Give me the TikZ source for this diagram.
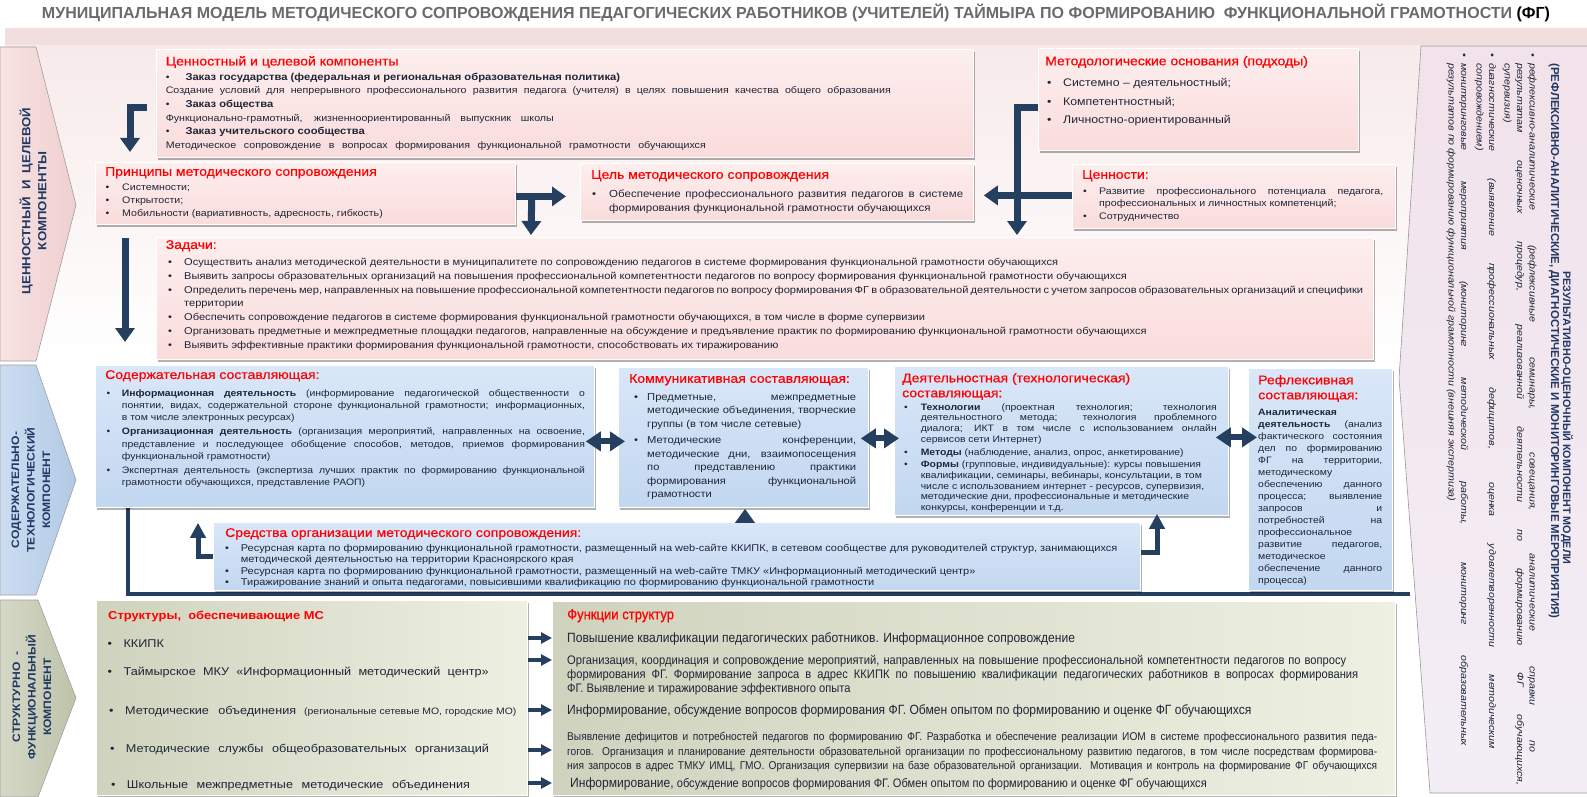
\documentclass[tikz,border=0pt]{standalone}
\usepackage{graphicx}
\usepackage{fontspec}
\setmainfont{Liberation Sans}[FakeStretch=1.12]
\newfontfamily\plainf{Liberation Sans}
\newfontfamily\narrowf{Liberation Sans}[FakeStretch=0.9]
\newfontfamily\redtitlef{Liberation Sans}[FakeStretch=1.12, FakeBold=0.6]
\newfontfamily\narrowtitlef{Liberation Sans}[FakeStretch=0.9, FakeBold=0.6]
\usetikzlibrary{arrows.meta,shadows,calc}
\definecolor{navy}{HTML}{243F5F}
\definecolor{navytext}{HTML}{1F3864}
\definecolor{bodytext}{HTML}{1F2638}
\definecolor{ttred}{HTML}{FF0000}
\definecolor{titlegray}{HTML}{6A6A6A}
\definecolor{bandpink}{HTML}{F2DEDE}
\definecolor{bgpinkA}{HTML}{F8EAEA}
\definecolor{pinkA}{HTML}{FDEEEE}
\definecolor{pinkB}{HTML}{FADCDC}
\definecolor{blueA}{HTML}{D9E7F8}
\definecolor{blueB}{HTML}{C2D7F0}
\definecolor{greenA}{HTML}{CFD3BD}
\definecolor{greenB}{HTML}{EEF0E2}
\definecolor{pA}{HTML}{F8E3E3}
\definecolor{pB}{HTML}{EFCFCF}
\definecolor{bA}{HTML}{CCDDF1}
\definecolor{bB}{HTML}{B2C9E5}
\definecolor{gA}{HTML}{D5D8C6}
\definecolor{gB}{HTML}{BEC3AB}
\definecolor{panelA}{HTML}{F2E2EA}
\definecolor{panelB}{HTML}{F3EEF6}
\newcommand\fstr{\rule{0pt}{.8em}}
\newcommand\bulx[1]{\makebox[#1][l]{\textbullet}}
\newcommand\indx[1]{\hspace*{#1}}
\newcommand\jline[2]{\makebox[#1][s]{#2}}
\begin{document}
\begin{tikzpicture}[x=1pt,y=-1pt,
  txt/.style={anchor=north west, inner sep=0pt, align=left, text=bodytext},
  rtitle/.style={txt, text=ttred, font=\redtitlef\fontsize{12.5}{15}\selectfont},
  boxbase/.style={anchor=north west, inner sep=0pt, draw=white, line width=0.8pt,
     drop shadow={shadow xshift=2pt, shadow yshift=-2.5pt, fill=black, opacity=0.3}},
  pinkbox/.style={boxbase, top color=pinkA, bottom color=pinkB},
  bluebox/.style={boxbase, top color=blueA, bottom color=blueB},
  greenbox/.style={boxbase, left color=greenA, right color=greenB},
  navyarrow/.style={draw=navy, line width=7pt, -{Triangle[length=14pt,width=19pt]}},
  thinarrow/.style={draw=navy, line width=5pt, -{Triangle[length=15pt,width=15pt]}},
  dblarrow/.style={draw=navy, line width=6pt, {Triangle[length=15pt,width=19pt]}-{Triangle[length=15pt,width=19pt]}},
  smallarrow/.style={draw=navy, line width=3.5pt, -{Triangle[length=11pt,width=11pt]}},
  frameline/.style={draw=navy, line width=4pt},
  pentagon/.style={draw=gray!75, line width=0.6pt},
  pentext/.style={rotate=90, align=center, text=navytext, inner sep=0pt}
]
\useasboundingbox (0,0) rectangle (1587,797);
% ---------- background
\fill[bandpink] (5,28) rectangle (1590,46);
\shade[top color=bgpinkA, bottom color=white] (5,46) rectangle (1590,362);
% ---------- title
\node[anchor=base, inner sep=0pt] (title) at (796,18.5) {\resizebox{1508pt}{!}{\plainf\bfseries\fontsize{15.5}{18}\selectfont\textcolor{titlegray}{МУНИЦИПАЛЬНАЯ МОДЕЛЬ МЕТОДИЧЕСКОГО СОПРОВОЖДЕНИЯ ПЕДАГОГИЧЕСКИХ РАБОТНИКОВ (УЧИТЕЛЕЙ) ТАЙМЫРА ПО ФОРМИРОВАНИЮ\ \ ФУНКЦИОНАЛЬНОЙ ГРАМОТНОСТИ} \textcolor{black}{(ФГ)}}};
% ---------- left pentagons
\draw[pentagon, left color=pA, right color=pB] (0,47) -- (36,47) -- (76,205) -- (36,361) -- (0,361) -- cycle;
\draw[pentagon, left color=bA, right color=bB] (0,365) -- (36,365) -- (76,480) -- (36,595) -- (0,595) -- cycle;
\draw[pentagon, left color=gA, right color=gB] (0,600) -- (38,600) -- (76,698) -- (38,797) -- (0,797) -- cycle;
\node[pentext, font=\bfseries\fontsize{11.8}{16}\selectfont] (P1t) at (33,201) {ЦЕННОСТНЫЙ\ \ И\ \ ЦЕЛЕВОЙ\\КОМПОНЕНТЫ};
\node[pentext, font=\bfseries\fontsize{10.8}{15.5}\selectfont] (P2t) at (31,490) {СОДЕРЖАТЕЛЬНО-\\ТЕХНОЛОГИЧЕСКИЙ\\КОМПОНЕНТ};
\node[pentext, font=\bfseries\fontsize{10.8}{15.5}\selectfont] (P3t) at (32,697) {СТРУКТУРНО\ \ -\\ФУНКЦИОНАЛЬНЫЙ\\КОМПОНЕНТ};
% ---------- frame line end
\coordinate (f1) at (1410,593.5);
% ---------- right panel
\draw[draw=gray!80, line width=0.6pt, top color=panelA, bottom color=panelB] (1421,46) -- (1590,46) -- (1590,793) -- (1430,793) -- (1399,378) -- cycle;
\node[rotate=-90, inner sep=0pt, text=navytext, font=\plainf\bfseries\fontsize{10.8}{12}\selectfont] (RT1) at (1567,418) {РЕЗУЛЬТАТИВНО-ОЦЕНОЧНЫЙ КОМПОНЕНТ МОДЕЛИ};
\node[rotate=-90, inner sep=0pt, text=navytext, font=\plainf\bfseries\fontsize{11.5}{12}\selectfont] (RT2) at (1554,341) {(РЕФЛЕКСИВНО-АНАЛИТИЧЕСКИЕ, ДИАГНОСТИЧЕСКИЕ И МОНИТОРИНГОВЫЕ МЕРОПРИЯТИЯ)};
\node[txt, rotate=-90, font=\itshape\fontsize{9.5}{12.5}\selectfont] (RB) at (1537.5,53) {%
\fstr\bulx{10pt}\jline{689pt}{рефлексивно-аналитические (рефлексивные семинары, совещания, аналитические справки по}\\
\indx{10pt}\jline{722pt}{результатам оценочных процедур, реализованной деятельности по формированию ФГ обучающихся,}\\
\indx{10pt}супервизия)\\[3pt]
\bulx{10pt}\jline{686pt}{диагностические (выявление профессиональных дефицитов, оценка удовлетворенности методическим}\\
\indx{10pt}сопровождением)\\[3pt]
\bulx{10pt}\jline{683pt}{мониторинговые мероприятия (мониторинг методической работы, мониторинг образовательных}\\
\indx{10pt}результатов по формированию функциональной грамотности (внешняя экспертиза)};
% ---------- boxes
\node[pinkbox, minimum width=817pt, minimum height=108pt] (A) at (156,49) {};
\node[pinkbox, minimum width=420pt, minimum height=62pt] (B) at (95,162) {};
\node[pinkbox, minimum width=393pt, minimum height=57pt] (C) at (580,163) {};
\node[pinkbox, minimum width=320pt, minimum height=102pt] (D) at (1038,48) {};
\node[pinkbox, minimum width=323pt, minimum height=64pt] (E) at (1072,164) {};
\node[pinkbox, minimum width=1217pt, minimum height=122pt] (F) at (156,237) {};
\draw[frameline] (127.5,507) coordinate (f0) |- (f1);
\node[bluebox, minimum width=499pt, minimum height=142pt] (G) at (95,365) {};
\node[bluebox, minimum width=250pt, minimum height=140pt] (H) at (618,367) {};
\node[bluebox, minimum width=334pt, minimum height=149pt] (I) at (894,366) {};
\node[bluebox, minimum width=144pt, minimum height=222pt] (J) at (1248,368) {};
\node[bluebox, minimum width=927pt, minimum height=68pt] (K) at (213,522) {};
\node[greenbox, minimum width=431pt, minimum height=195pt] (L) at (96,600) {};
\node[greenbox, minimum width=843pt, minimum height=194pt] (M) at (552,601) {};
% ---------- texts A
\node[rtitle] (At) at (165.6,56) {Ценностный и целевой компоненты};
\node[txt, font=\fontsize{9.5}{13.6}\selectfont] (Ab) at (165.6,72.5) {%
\fstr\bulx{19.7pt}{\bfseries\fontsize{10}{13.6}\selectfont Заказ государства (федеральная и региональная образовательная политика)}\\
\jline{725pt}{Создание условий для непрерывного профессионального развития педагога (учителя) в целях повышения качества общего образования}\\
\bulx{19.7pt}{\bfseries\fontsize{10}{13.6}\selectfont Заказ общества}\\
\jline{388pt}{Функционально-грамотный, жизненноориентированный выпускник школы}\\
\bulx{19.7pt}{\bfseries\fontsize{10}{13.6}\selectfont Заказ учительского сообщества}\\
\jline{540pt}{Методическое сопровождение в вопросах формирования функциональной грамотности обучающихся}};
% B
\node[rtitle] (Bt) at (105,167) {Принципы методического сопровождения};
\node[txt, font=\fontsize{9.5}{12.9}\selectfont] (Bb) at (105.5,182.5) {%
\fstr\bulx{16.5pt}Системности;\\ \bulx{16.5pt}Открытости;\\ \bulx{16.5pt}Мобильности (вариативность, адресность, гибкость)};
% C
\node[rtitle] (Ct) at (591,170) {Цель методического сопровождения};
\node[txt, font=\fontsize{10.3}{13.5}\selectfont] (Cb) at (592,189.2) {%
\fstr\bulx{17pt}\jline{354pt}{Обеспечение профессионального развития педагогов в системе}\\
\indx{17pt}формирования функциональной грамотности обучающихся};
% D
\node[rtitle] (Dt) at (1045,56) {Методологические основания (подходы)};
\node[txt, font=\fontsize{11}{18.5}\selectfont] (Db) at (1047,77.8) {%
\fstr\bulx{16pt}Системно – деятельностный;\\ \bulx{16pt}Компетентностный;\\ \bulx{16pt}Личностно-ориентированный};
% E
\node[rtitle] (Et) at (1082,170) {Ценности:};
\node[txt, font=\fontsize{9.5}{12.5}\selectfont] (Eb) at (1083,186.5) {%
\fstr\bulx{16pt}\jline{284pt}{Развитие профессионального потенциала педагога,}\\
\indx{16pt}профессиональных и личностных компетенций;\\
\bulx{16pt}Сотрудничество};
% F
\node[rtitle] (Ft) at (165.6,240) {Задачи:};
\node[txt, font=\fontsize{9.9}{13.8}\selectfont] (Fb) at (168,257.3) {%
\fstr\bulx{16pt}Осуществить анализ методической деятельности в муниципалитете по сопровождению педагогов в системе формирования функциональной грамотности обучающихся\\
\bulx{16pt}Выявить запросы образовательных организаций на повышения профессиональной компетентности педагогов по вопросу формирования функциональной грамотности обучающихся\\
\bulx{16pt}\jline{1179pt}{Определить перечень мер, направленных на повышение профессиональной компетентности педагогов по вопросу формирования ФГ в образовательной деятельности с учетом запросов образовательных организаций и специфики}\\
\indx{16pt}территории\\
\bulx{16pt}Обеспечить сопровождение педагогов в системе формирования функциональной грамотности обучающихся, в том числе в форме супервизии\\
\bulx{16pt}Организовать предметные и межпредметные площадки педагогов, направленные на обсуждение и предъявление практик по формированию функциональной грамотности обучающихся\\
\bulx{16pt}Выявить эффективные практики формирования функциональной грамотности, способствовать их тиражированию};
% G
\node[rtitle] (Gt) at (105,370) {Содержательная составляющая:};
\node[txt, font=\fontsize{9.3}{12.3}\selectfont] (Gb) at (106.5,388.6) {%
\fstr\bulx{15.2pt}\jline{463pt}{\textbf{Информационная деятельность} (информирование педагогической общественности о}\\
\indx{15.2pt}\jline{463pt}{понятии, видах, содержательной стороне функциональной грамотности; информационных,}\\
\indx{15.2pt}в том числе электронных ресурсах)\\[1.7pt]
\bulx{15.2pt}\jline{463pt}{\textbf{Организационная деятельность} (организация мероприятий, направленных на освоение,}\\
\indx{15.2pt}\jline{463pt}{представление и последующее обобщение способов, методов, приемов формирования}\\
\indx{15.2pt}функциональной грамотности)\\[1.7pt]
\bulx{15.2pt}\jline{463pt}{Экспертная деятельность (экспертиза лучших практик по формированию функциональной}\\
\indx{15.2pt}грамотности обучающихся, представление РАОП)};
% H
\node[rtitle] (Ht) at (629,374) {Коммуникативная составляющая:};
\node[txt, font=\fontsize{10}{13.5}\selectfont] (Hb) at (634,391.8) {%
\fstr\bulx{13pt}\jline{209pt}{Предметные, межпредметные}\\
\indx{13pt}\jline{209pt}{методические объединения, творческие}\\
\indx{13pt}группы (в том числе сетевые)\\[3pt]
\bulx{13pt}\jline{209pt}{Методические конференции,}\\
\indx{13pt}\jline{209pt}{методические дни, взаимопосещения}\\
\indx{13pt}\jline{209pt}{по представлению практики}\\
\indx{13pt}\jline{209pt}{формирования функциональной}\\
\indx{13pt}грамотности};
% I
\node[rtitle] (It) at (902,373) {Деятельностная (технологическая)\\составляющая:};
\node[txt, font=\fontsize{9.3}{10.7}\selectfont] (Ib) at (904,402.6) {%
\fstr\bulx{16.6pt}\jline{296pt}{\textbf{Технологии} (проектная технология; технология}\\
\indx{16.6pt}\jline{296pt}{деятельностного метода; технология проблемного}\\
\indx{16.6pt}\jline{296pt}{диалога; ИКТ в том числе с использованием онлайн}\\
\indx{16.6pt}сервисов сети Интернет)\\[2pt]
\bulx{16.6pt}\textbf{Методы} (наблюдение, анализ, опрос, анкетирование)\\[2pt]
\bulx{16.6pt}\textbf{Формы} (групповые, индивидуальные): курсы повышения\\
\indx{16.6pt}квалификации, семинары, вебинары, консультации, в том\\
\indx{16.6pt}числе с использованием интернет - ресурсов, супервизия,\\
\indx{16.6pt}методические дни, профессиональные и методические\\
\indx{16.6pt}конкурсы, конференции и т.д.};
% J
\node[rtitle] (Jt) at (1258,375) {Рефлексивная\\составляющая:};
\node[txt, font=\fontsize{9.3}{12}\selectfont] (Jb) at (1258,407.6) {%
\fstr\textbf{Аналитическая}\\
\jline{124pt}{\textbf{деятельность} (анализ}\\
\jline{124pt}{фактического состояния}\\
\jline{124pt}{дел по формированию}\\
\jline{124pt}{ФГ на территории,}\\
методическому\\
\jline{124pt}{обеспечению данного}\\
\jline{124pt}{процесса; выявление}\\
\jline{124pt}{запросов и}\\
\jline{124pt}{потребностей на}\\
профессиональное\\
\jline{124pt}{развитие педагогов,}\\
методическое\\
\jline{124pt}{обеспечение данного}\\
процесса)};
% K
\node[rtitle] (Kt) at (225,528) {Средства организации методического сопровождения:};
\node[txt, font=\fontsize{9.8}{11.6}\selectfont] (Kb) at (225,543) {%
\fstr\bulx{15.7pt}Ресурсная карта по формированию функциональной грамотности, размещенный на web-сайте ККИПК, в сетевом сообществе для руководителей структур, занимающихся\\
\indx{15.7pt}методической деятельностью на территории Красноярского края\\
\bulx{15.7pt}Ресурсная карта по формированию функциональной грамотности, размещенный на web-сайте ТМКУ «Информационный методический центр»\\
\bulx{15.7pt}Тиражирование знаний и опыта педагогами, повысившими квалификацию по формированию функциональной грамотности};
% L
\node[rtitle, font=\bfseries\fontsize{11.5}{14}\selectfont] (Lt) at (108,611) {Структуры,\ \ обеспечивающие МС};
\node[txt, font=\fontsize{11.3}{14}\selectfont] (Lb) at (107.5,638.7) {%
\fstr\bulx{15.9pt}ККИПК\\[14pt]
\bulx{15.9pt}\jline{365pt}{Таймырское МКУ «Информационный методический центр»}\\[25pt]
\indx{1.5pt}\bulx{16pt}\jline{171pt}{Методические объединения}\hspace{8pt}{\fontsize{9.3}{14}\selectfont(региональные сетевые МО, городские МО)}\\[24pt]
\indx{2.5pt}\bulx{15.8pt}\jline{363pt}{Методические службы общеобразовательных организаций}\\[22pt]
\indx{3.5pt}\bulx{15.8pt}\jline{343pt}{Школьные межпредметные методические объединения}};
% M
\node[rtitle, font=\narrowtitlef\fontsize{14.5}{16}\selectfont] (Mt) at (567,609) {Функции структур};
\node[txt, font=\narrowf\fontsize{12.4}{14}\selectfont] (Mb) at (567,631.7) {%
{\fontsize{13.4}{14}\selectfont\fstr Повышение квалификации педагогических работников. Информационное сопровождение}\\[8pt]
\jline{779pt}{Организация, координация и сопровождение мероприятий, направленных на повышение профессиональной компетентности педагогов по вопросу}\\
\jline{791pt}{формирования ФГ. Формирование запроса в адрес ККИПК по повышению квалификации педагогических работников в вопросах формирования}\\
ФГ. Выявление и тиражирование эффективного опыта\\[8pt]
{\fontsize{13.4}{14}\selectfont Информирование, обсуждение вопросов формирования ФГ. Обмен опытом по формированию и оценке ФГ обучающихся}\\[12pt]
{\fontsize{11.3}{14}\selectfont\jline{810pt}{Выявление дефицитов и потребностей педагогов по формированию ФГ. Разработка и обеспечение реализации ИОМ в системе профессионального развития педа-}}\\[0.5pt]
{\fontsize{11.3}{14}\selectfont\jline{810pt}{гогов. Организация и планирование деятельности образовательной организации по профессиональному развитию педагогов, в том числе посредствам формирова-}}\\[0.5pt]
{\fontsize{11.3}{14}\selectfont\jline{810pt}{ния запросов в адрес ТМКУ ИМЦ, ГМО. Организация супервизии на базе образовательной организации. Мотивация и контроль на формирование ФГ обучающихся}}\\[4pt]
\indx{3pt}{\fontsize{13.4}{14}\selectfont Информирование,} {\fontsize{12.3}{14}\selectfont обсуждение вопросов формирования ФГ. Обмен опытом по формированию и оценке ФГ обучающихся}};
% ---------- arrows
\coordinate (a1s) at ($(A.north west)+(-9,59)$);
\coordinate (a1e) at ($(B.north west)+(35,-10)$);
\draw[navyarrow] (a1s) -| (a1e);
\coordinate (t0) at ($(B.east)+(0,3)$);
\coordinate (t1) at ($(C.west)+(-14,4.5)$);
\draw[navyarrow] (t0) -- (t1);
\coordinate (t2) at ($(B.east)+(16,3)$);
\coordinate (t3) at ($(F.north west)+(375,-2)$);
\draw[navyarrow] (t2) -- (t3);
\coordinate (d0) at ($(D.west)+(0,8)$);
\coordinate (d1) at ($(F.north west)+(861,-2)$);
\draw[navyarrow] (d0) -| (d1);
\coordinate (e0) at ($(E.west)+(0,-1)$);
\coordinate (e1) at ($(C.east)+(10,3.5)$);
\draw[navyarrow] (e0) -- (e1);
\coordinate (g0) at ($(B.south west)+(30,13)$);
\coordinate (g1) at ($(G.north west)+(30,-23)$);
\draw[navyarrow] (g0) -- (g1);
\draw[dblarrow] ($(G.east)+(-9,5)$) -- ($(H.west)+(7,4)$);
\draw[dblarrow] ($(H.east)+(-8,1)$) -- ($(I.west)+(5,-2.5)$);
\draw[dblarrow] ($(I.east)+(-13,-3.5)$) -- ($(J.west)+(9,-42)$);
\draw[navyarrow] ($(K.north west)+(532,0)$) -- ($(H.south west)+(127,1)$);
\coordinate (kg1) at ($(G.south west)+(103,15)$);
\draw[thinarrow] (K.west) -| (kg1);
\coordinate (ki0) at ($(K.east)+(0,-4)$);
\coordinate (ki1) at ($(I.south west)+(263,-2)$);
\draw[thinarrow] (ki0) -| (ki1);
\foreach \yy/\n in {638/1,660/2,710/3,750/4,783/5}{
  \coordinate (lm\n) at (0,\yy);
  \draw[smallarrow] (L.east |- lm\n) -- (M.west |- lm\n);
}
\end{tikzpicture}
\end{document}
